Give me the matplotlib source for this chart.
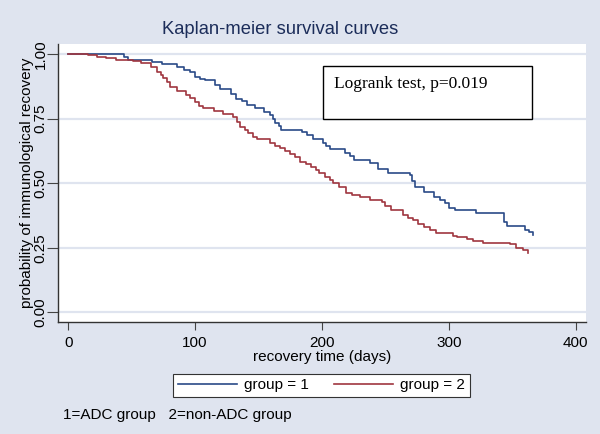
import matplotlib
matplotlib.use("Agg")
import matplotlib.pyplot as plt
from matplotlib.patches import Rectangle
import numpy as np

# Kaplan-Meier step points (days, survival)
g1_days = [0, 44, 47, 66, 74, 86, 91, 96, 100, 104, 108, 116, 120, 128, 132,
           137, 141, 147, 154, 159, 161, 163, 166, 168, 184, 188, 193, 201,
           203, 206, 218, 222, 225, 238, 244, 252, 269, 271, 273, 280, 288,
           293, 297, 300, 305, 321, 343, 346, 360, 363, 366]
g1_surv = [1.0, 0.989, 0.978, 0.970, 0.961, 0.950, 0.938, 0.929, 0.912, 0.905,
           0.899, 0.880, 0.863, 0.845, 0.828, 0.819, 0.803, 0.790, 0.777,
           0.764, 0.748, 0.732, 0.720, 0.708, 0.697, 0.686, 0.670, 0.657,
           0.645, 0.631, 0.618, 0.604, 0.590, 0.577, 0.557, 0.540, 0.532,
           0.510, 0.486, 0.467, 0.448, 0.437, 0.422, 0.406, 0.396, 0.386,
           0.351, 0.334, 0.319, 0.310, 0.299]

g2_days = [0, 16, 23, 30, 38, 51, 57, 65, 70, 73, 75, 78, 80, 86, 93, 96, 100,
           103, 106, 115, 122, 130, 133, 135, 139, 142, 146, 149, 159, 163,
           167, 171, 175, 179, 183, 187, 191, 195, 198, 202, 206, 209, 213,
           219, 224, 230, 238, 247, 250, 254, 264, 268, 272, 276, 280, 285,
           290, 303, 306, 314, 319, 327, 348, 353, 358, 362]
g2_surv = [1.0, 0.996, 0.990, 0.983, 0.978, 0.974, 0.964, 0.951, 0.931, 0.918,
           0.906, 0.890, 0.873, 0.857, 0.841, 0.830, 0.815, 0.800, 0.790,
           0.780, 0.770, 0.755, 0.737, 0.718, 0.705, 0.693, 0.680, 0.670,
           0.657, 0.646, 0.635, 0.625, 0.615, 0.600, 0.583, 0.574, 0.564,
           0.550, 0.538, 0.525, 0.512, 0.500, 0.486, 0.461, 0.455, 0.448,
           0.435, 0.428, 0.412, 0.396, 0.377, 0.367, 0.357, 0.344, 0.331,
           0.318, 0.306, 0.295, 0.293, 0.286, 0.277, 0.270, 0.264, 0.248,
           0.240, 0.231]

x_ticks = [0, 100, 200, 300, 400]
y_ticks = [0.0, 0.25, 0.5, 0.75, 1.0]
y_ticklabels = ["0.00", "0.25", "0.50", "0.75", "1.00"]
legend_labels = ["group = 1", "group = 2"]

bg = "#dfe4ef"
blue = "#2a4a87"
red = "#a0363f"

plt.rcParams['font.family'] = ['Liberation Sans', 'DejaVu Sans']

fig = plt.figure(figsize=(6, 4.34), dpi=100, facecolor=bg)
ax = fig.add_axes([58/600, 1-322/434, 528/600, 278/434])
ax.set_facecolor("white")

for y in y_ticks:
    ax.axhline(y, color=bg, lw=1.6, zorder=0)

l1, = ax.step(g1_days, g1_surv, where='post', color=blue, lw=1.2)
l2, = ax.step(g2_days, g2_surv, where='post', color=red, lw=1.2)

ax.set_xlim(-8, 408)
ax.set_ylim(-0.037, 1.039)
ax.set_xticks(x_ticks)
ax.set_yticks(y_ticks)
ax.set_yticklabels(y_ticklabels, rotation=90, va='center')
ax.tick_params(axis='y', length=8, pad=-0.5, labelsize=11, color='#444444')
ax.tick_params(axis='x', length=6, pad=4, labelsize=11, color='#444444')
for s in ['top', 'right']:
    ax.spines[s].set_visible(False)
for s in ['left', 'bottom']:
    ax.spines[s].set_color('#333333')
    ax.spines[s].set_linewidth(1.0)

ax.set_xlabel("recovery time (days)", fontsize=11, labelpad=0)
ax.set_ylabel("probability of immunological recovery", fontsize=11)
ax.yaxis.set_label_coords(-0.045, 0.5)

fig.text(280/600, 1-30/434, "Kaplan-meier survival curves", ha='center',
         va='center', fontsize=13.2, color='#1c2d5a')

# logrank box
ax.add_patch(Rectangle((0.502, 0.731), 0.396, 0.19, transform=ax.transAxes,
                       facecolor='white', edgecolor='black', lw=1.0, zorder=3))
ax.text(0.523, 0.842, "Logrank test, p=0.019", transform=ax.transAxes,
        family=['Liberation Serif'], fontsize=12.5, va='baseline', zorder=4)

leg = fig.legend([l1, l2], legend_labels, loc='center', ncol=2,
                 bbox_to_anchor=(321.5/600, 1-385.5/434), frameon=True,
                 fancybox=False, edgecolor='#333333', framealpha=1,
                 fontsize=11, handlelength=3.85, handletextpad=0.5,
                 columnspacing=1.6, borderpad=0.3)
leg.get_frame().set_linewidth(0.8)

fig.text(63/600, 1-415/434, "1=ADC group   2=non-ADC group", ha='left',
         va='center', fontsize=11)

fig.savefig("out.png", dpi=100, facecolor=bg)
